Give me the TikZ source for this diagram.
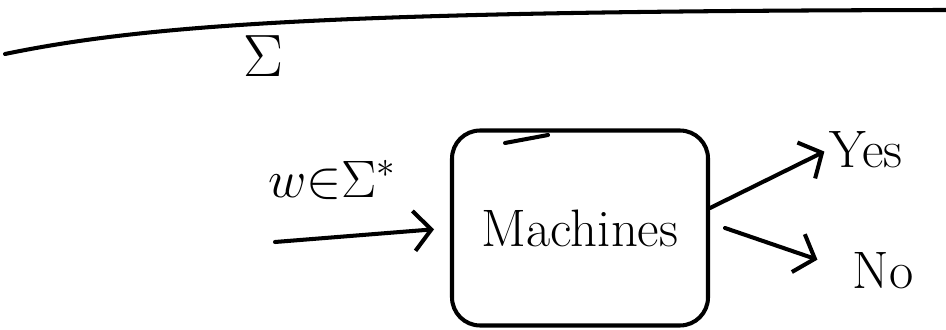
\RequirePackage{fix-cm}
\documentclass[tikz,border=0pt]{standalone}
\usepackage{amsmath,amssymb}
\usepackage{fontspec}
\usetikzlibrary{arrows.meta}

\tikzset{
  pen/.style={line width=2.3pt, line cap=round, line join=round},
  barb/.style={pen, -{Straight Barb[length=3.5mm,width=8mm]}},
  word/.style={font=\fontsize{30}{36}\selectfont, inner sep=1pt},
}

\begin{document}
\begin{tikzpicture}
    \useasboundingbox (0,0) rectangle (18.92,6.58);
    % alphabet line
    \draw[pen] (0.1,5.5) .. controls (3,6.1) and (7,6.36) .. (18.92,6.38);
    \node[word, font=\fontsize{34}{40}\selectfont] (sigma) at (5.26,5.45) {$\Sigma$};

    % machine box
    \node[pen, draw, rounded corners=16pt, minimum width=5.12cm, minimum height=3.9cm,
          font=\fontsize{30}{36}\selectfont] (machine) at (11.6,2.02) {Machines};
    \draw[pen] (10.1,3.72) -- (10.96,3.88);

    % input word
    \coordinate (in) at (5.5,1.74);
    \node[word] (input) at (6.64,2.98) {$w{\in}\Sigma^*$};
    \draw[barb, shorten >=0.32cm] (in) -- (machine.west);

    % answers
    \node[word] (yes) at (17.32,3.58) {Yes};
    \node[word] (no) at (17.66,1.16) {No};
    \draw[barb, shorten >=2pt] ([yshift=0.4cm]machine.east) -- (yes.west);
    \draw[barb, shorten >=0.7cm] ([xshift=0.3cm]machine.east) -- (no.west);
\end{tikzpicture}
\end{document}
